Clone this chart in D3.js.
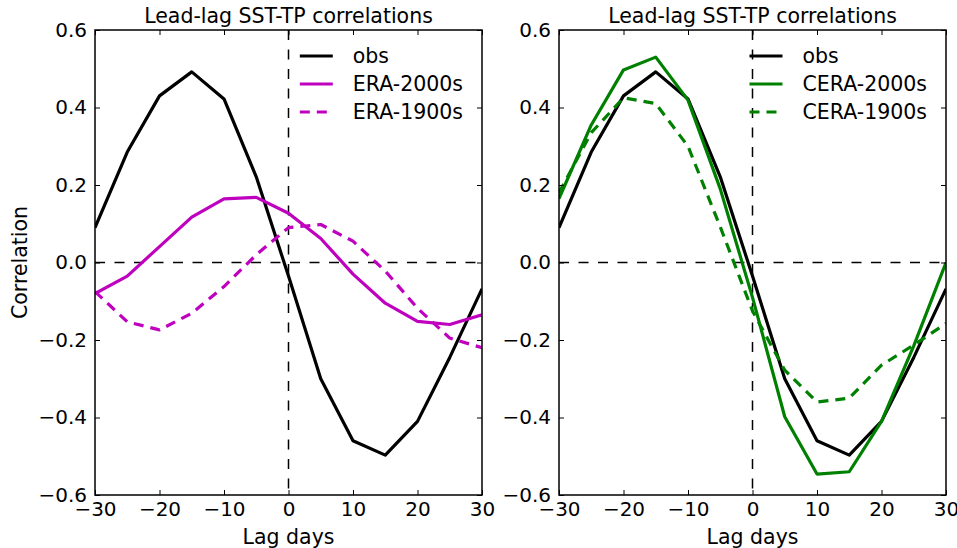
<!DOCTYPE html>
<html>
<head>
<meta charset="utf-8">
<script src="https://cdn.jsdelivr.net/npm/d3@7"></script>
<style>
    body { margin: 0; background: #fff; }
    text { font-family: 'DejaVu Sans', sans-serif; fill: #000; }
</style>
</head>
<body>
<div id="chart"></div>
<script>
// Lag days (x values shared by every series)
const lags = [-30, -25, -20, -15, -10, -5, 0, 5, 10, 15, 20, 25, 30];

// Series values
const obs = [0.09, 0.285, 0.43, 0.492, 0.422, 0.221, -0.035, -0.30, -0.46, -0.497, -0.41, -0.245, -0.068];
const era2000 = [-0.08, -0.035, 0.041, 0.117, 0.164, 0.168, 0.127, 0.062, -0.03, -0.105, -0.152, -0.16, -0.135];
const era1900 = [-0.075, -0.153, -0.174, -0.131, -0.062, 0.02, 0.09, 0.098, 0.055, -0.022, -0.118, -0.195, -0.22];
const cera2000 = [0.165, 0.355, 0.497, 0.53, 0.419, 0.19, -0.09, -0.398, -0.546, -0.54, -0.41, -0.215, 0.0];
const cera1900 = [0.18, 0.335, 0.425, 0.41, 0.30, 0.092, -0.125, -0.278, -0.36, -0.35, -0.265, -0.213, -0.157];

// Tick values
const xTicks = [-30, -20, -10, 0, 10, 20, 30];
const yTicks = [-0.6, -0.4, -0.2, 0.0, 0.2, 0.4, 0.6];

const titleText = 'Lead-lag SST-TP correlations';

// Panels: which series go where
const panels = [
    {
        left: 95, right: 482, showYLabel: true,
        series: [
            { name: 'obs', values: obs, color: '#000000', dash: null },
            { name: 'ERA-2000s', values: era2000, color: '#bf00bf', dash: null },
            { name: 'ERA-1900s', values: era1900, color: '#bf00bf', dash: '10,7' }
        ]
    },
    {
        left: 559, right: 946, showYLabel: false,
        series: [
            { name: 'obs', values: obs, color: '#000000', dash: null },
            { name: 'CERA-2000s', values: cera2000, color: '#008000', dash: null },
            { name: 'CERA-1900s', values: cera1900, color: '#008000', dash: '10,7' }
        ]
    }
];

const plotTop = 30, plotBottom = 495;

const svg = d3.select('#chart')
    .append('svg')
    .attr('width', 957)
    .attr('height', 548);

const fmtY = d => d3.format('.1f')(d).replace('-', '\u2212');
const fmtX = d => String(d).replace('-', '\u2212');

panels.forEach((p, pi) => {
    const xScale = d3.scaleLinear().domain([-30, 30]).range([p.left, p.right]);
    const yScale = d3.scaleLinear().domain([-0.6, 0.6]).range([plotBottom, plotTop]);
    const g = svg.append('g');

    // Clip to the plot area
    const clipId = 'clip' + pi;
    g.append('clipPath').attr('id', clipId)
        .append('rect')
        .attr('x', p.left).attr('y', plotTop)
        .attr('width', p.right - p.left).attr('height', plotBottom - plotTop);

    const plot = g.append('g').attr('clip-path', `url(#${clipId})`);

    // Zero reference lines
    plot.append('line')
        .attr('x1', p.left).attr('x2', p.right)
        .attr('y1', yScale(0)).attr('y2', yScale(0))
        .attr('stroke', '#000').attr('stroke-width', 1.5)
        .attr('stroke-dasharray', '10,9.5');
    plot.append('line')
        .attr('x1', xScale(0)).attr('x2', xScale(0))
        .attr('y1', plotTop).attr('y2', plotBottom)
        .attr('stroke', '#000').attr('stroke-width', 1.5)
        .attr('stroke-dasharray', '10,9.5');

    // Series lines
    const line = d3.line()
        .x((d, i) => xScale(lags[i]))
        .y(d => yScale(d));

    p.series.forEach(s => {
        plot.append('path')
            .datum(s.values)
            .attr('d', line)
            .attr('fill', 'none')
            .attr('stroke', s.color)
            .attr('stroke-width', 3.2)
            .attr('stroke-linejoin', 'round')
            .attr('stroke-dasharray', s.dash);
    });

    // Axes, ticks pointing inwards on all four sides
    const axB = g.append('g')
        .attr('transform', `translate(0, ${plotBottom})`)
        .call(d3.axisBottom(xScale).tickValues(xTicks).tickSize(-5).tickPadding(7).tickFormat(fmtX));
    const axL = g.append('g')
        .attr('transform', `translate(${p.left}, 0)`)
        .call(d3.axisLeft(yScale).tickValues(yTicks).tickSize(-5).tickPadding(8).tickFormat(fmtY));
    const axT = g.append('g')
        .attr('transform', `translate(0, ${plotTop})`)
        .call(d3.axisTop(xScale).tickValues(xTicks).tickSize(-5).tickFormat(''));
    const axR = g.append('g')
        .attr('transform', `translate(${p.right}, 0)`)
        .call(d3.axisRight(yScale).tickValues(yTicks).tickSize(-5).tickFormat(''));

    [axB, axL, axT, axR].forEach(ax => {
        ax.select('.domain').remove();
        ax.selectAll('.tick line').attr('stroke', '#000').attr('stroke-width', 1);
        ax.selectAll('.tick text')
            .style('font-family', "'DejaVu Sans', sans-serif")
            .style('font-size', '20px')
            .attr('fill', '#000');
    });

    // Frame
    g.append('rect')
        .attr('x', p.left).attr('y', plotTop)
        .attr('width', p.right - p.left).attr('height', plotBottom - plotTop)
        .attr('fill', 'none')
        .attr('stroke', '#000')
        .attr('stroke-width', 1.5);

    // Title
    const cx = (p.left + p.right) / 2;
    g.append('text')
        .attr('x', cx).attr('y', 23)
        .attr('text-anchor', 'middle')
        .style('font-size', '20.5px')
        .text(titleText);

    // X label
    g.append('text')
        .attr('x', cx).attr('y', 544)
        .attr('text-anchor', 'middle')
        .style('font-size', '20.5px')
        .text('Lag days');

    // Y label
    if (p.showYLabel) {
        g.append('text')
            .attr('transform', `translate(27, ${(plotTop + plotBottom) / 2}) rotate(-90)`)
            .attr('text-anchor', 'middle')
            .style('font-size', '20.5px')
            .text('Correlation');
    }

    // Legend (no frame), anchored to the upper right corner
    const legend = g.append('g');
    const labels = p.series.map((s, i) => legend.append('text')
        .attr('y', 56 + i * 28)
        .attr('dy', '0.35em')
        .style('font-size', '20.5px')
        .text(s.name));
    const maxW = d3.max(labels, t => t.node().getComputedTextLength());
    const textX = p.right - 19 - maxW;
    labels.forEach(t => t.attr('x', textX));
    p.series.forEach((s, i) => {
        const y = 56 + i * 28;
        legend.append('line')
            .attr('x1', textX - 53).attr('x2', textX - 20)
            .attr('y1', y).attr('y2', y)
            .attr('stroke', s.color)
            .attr('stroke-width', 3.2)
            .attr('stroke-dasharray', s.dash);
    });
});
</script>
</body>
</html>
